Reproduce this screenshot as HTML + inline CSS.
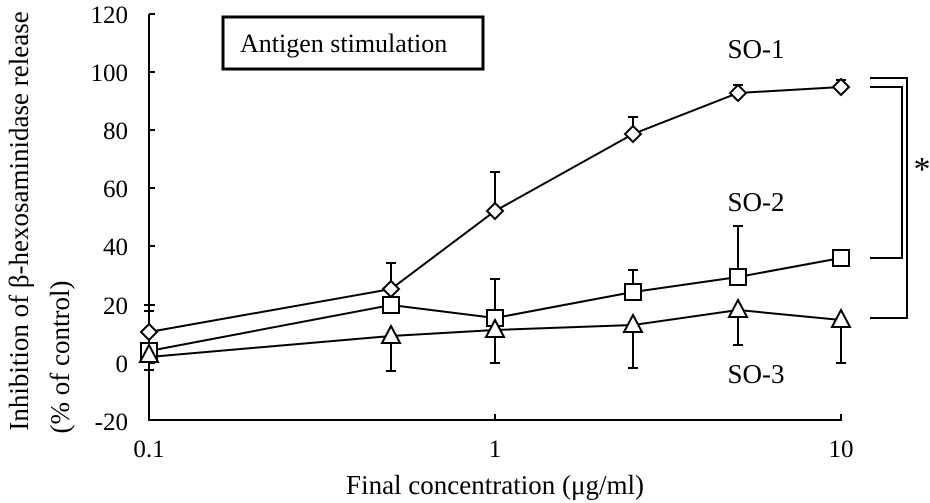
<!DOCTYPE html>
<html><head><meta charset="utf-8"><style>
html,body{margin:0;padding:0;background:#fff;}
svg{display:block;font-family:"Liberation Serif",serif;}
</style></head><body>
<svg width="930" height="503" viewBox="0 0 930 503" xmlns="http://www.w3.org/2000/svg">
<g stroke="#000" stroke-width="2" fill="none">
<path d="M149,14 V420 H842"/>
<path d="M149,14 h6 M149,72 h6 M149,130 h6 M149,188 h6 M149,246 h6 M149,305 h6 M149,363 h6"/>
<path d="M495,420 v-6 M841,420 v-6"/>
</g>
<g font-size="25" text-anchor="end" fill="#000">
<text x="128" y="23">120</text><text x="128" y="81">100</text><text x="128" y="139">80</text>
<text x="128" y="197">60</text><text x="128" y="255">40</text><text x="128" y="314">20</text>
<text x="128" y="372">0</text><text x="128" y="430">-20</text>
</g>
<g font-size="25" text-anchor="middle" fill="#000">
<text x="149" y="457">0.1</text><text x="495" y="457">1</text><text x="841" y="457">10</text>
</g>
<g font-size="27" text-anchor="middle" fill="#000">
<text x="495" y="494">Final concentration (μg/ml)</text>
<text transform="translate(28,221) rotate(-90)">Inhibition of β-hexosaminidase release</text>
<text transform="translate(69,357) rotate(-90)">(% of control)</text>
<text x="756" y="58">SO-1</text>
<text x="756" y="211">SO-2</text>
<text x="756" y="383">SO-3</text>
</g>
<rect x="223" y="17" width="260" height="52" fill="none" stroke="#000" stroke-width="3"/>
<text x="240" y="52" font-size="26">Antigen stimulation</text>
<text x="922" y="180" font-size="34" text-anchor="middle">*</text>
<g stroke="#000" stroke-width="2" fill="none">
<path d="M870,78 H907 V318 H870"/>
<path d="M870,87 H902 V258 H870"/>
<path d="M391,289 V263 M386,263 h10"/>
<path d="M495,211 V172 M490,172 h10"/>
<path d="M633,134 V117 M628,117 h10"/>
<path d="M738,93 V85 M733,85 h10"/>
<path d="M841,87 V80 M836,80 h10"/>
<path d="M149,331 V305 M144,305 h10 M144,311 h10"/>
<path d="M495,317 V279 M490,279 h10"/>
<path d="M633,292 V270 M628,270 h10"/>
<path d="M738,277 V226 M733,226 h10"/>
<path d="M149,356 V370 M144,370 h10"/>
<path d="M391,336 V371 M386,371 h10"/>
<path d="M495,330 V363 M490,363 h10"/>
<path d="M633,325 V368 M628,368 h10"/>
<path d="M738,310 V345 M733,345 h10"/>
<path d="M841,320 V363 M836,363 h10"/>
<polyline points="149,332 391,289 495,211 633,134 738,93 841,87"/>
<polyline points="149,351 391,305 495,318 633,292 738,277 841,258"/>
<polyline points="149,357 391,336 495,330 633,325 738,310 841,320"/>
</g>
<g stroke="#000" stroke-width="2" fill="#fff">
<g transform="translate(149,332)"><path d="M0,-8 L8,0 L0,8 L-8,0Z"/></g>
<g transform="translate(391,289)"><path d="M0,-8 L8,0 L0,8 L-8,0Z"/></g>
<g transform="translate(495,211)"><path d="M0,-8 L8,0 L0,8 L-8,0Z"/></g>
<g transform="translate(633,134)"><path d="M0,-8 L8,0 L0,8 L-8,0Z"/></g>
<g transform="translate(738,93)"><path d="M0,-8 L8,0 L0,8 L-8,0Z"/></g>
<g transform="translate(841,87)"><path d="M0,-8 L8,0 L0,8 L-8,0Z"/></g>
<rect x="141" y="343" width="16" height="16"/>
<rect x="383" y="297" width="16" height="16"/>
<rect x="487" y="310" width="16" height="16"/>
<rect x="625" y="284" width="16" height="16"/>
<rect x="730" y="269" width="16" height="16"/>
<rect x="833" y="250" width="16" height="16"/>
<path d="M149,345 L158,362 L140,362Z"/>
<path d="M391,326 L400,343 L382,343Z"/>
<path d="M495,320 L504,337 L486,337Z"/>
<path d="M633,315 L642,332 L624,332Z"/>
<path d="M738,300 L747,317 L729,317Z"/>
<path d="M841,310 L850,327 L832,327Z"/>
</g>
</svg>
</body></html>
